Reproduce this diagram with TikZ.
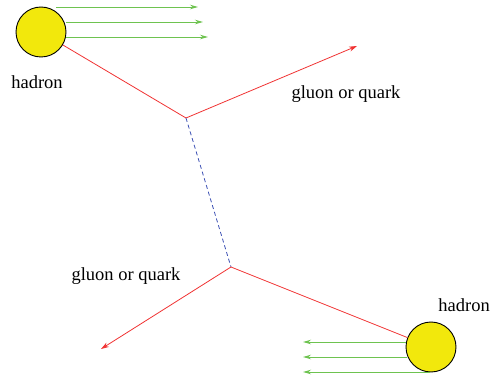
\documentclass[tikz,border=0pt]{standalone}
\usepackage{fontspec}
\setmainfont{Liberation Serif}
\usetikzlibrary{arrows.meta}
\definecolor{hred}{RGB}{240,50,50}
\definecolor{hgreen}{RGB}{110,195,80}
\definecolor{hblue}{RGB}{60,80,180}
\definecolor{hyellow}{RGB}{242,232,12}
\begin{document}
\begin{tikzpicture}[x=1pt,y=-1pt,
  hadronball/.style={circle,draw=black,fill=hyellow,line width=0.9pt,minimum size=50pt,inner sep=0pt},
  redline/.style={draw=hred,line width=0.8pt},
  redarrow/.style={redline,-{Stealth[length=8pt,width=5pt]}},
  greenarrow/.style={draw=hgreen,line width=0.9pt,-{Stealth[length=8pt,width=4.5pt]}},
  exchange/.style={draw=hblue,line width=0.8pt,dash pattern=on 4pt off 3pt},
  lbl/.style={font=\fontsize{18.5}{22}\selectfont,inner sep=0pt}]
\useasboundingbox (0,0) rectangle (491,377);
% top hadron
\node[hadronball] (h1) at (41,32) {};
\coordinate (g1s) at (56,7);  \coordinate (g1e) at (198,7);
\coordinate (g2s) at (66,22); \coordinate (g2e) at (203,22);
\coordinate (g3s) at (66,37); \coordinate (g3e) at (208,37);
\draw[greenarrow] (g1s) -- (g1e);
\draw[greenarrow] (g2s) -- (g2e);
\draw[greenarrow] (g3s) -- (g3e);
% vertices
\coordinate (v1) at (186,118);
\coordinate (v2) at (231,267);
\coordinate (o1) at (357,46);
\coordinate (o2) at (101,349);
% bottom hadron
\node[hadronball] (h2) at (431,347) {};
\coordinate (b1s) at (406,342); \coordinate (b1e) at (303,342);
\coordinate (b2s) at (407,357); \coordinate (b2e) at (303,357);
\coordinate (b3s) at (430,372); \coordinate (b3e) at (303,372);
\draw[greenarrow] (b1s) -- (b1e);
\draw[greenarrow] (b2s) -- (b2e);
\draw[greenarrow] (b3s) -- (b3e);
% lines
\draw[redline] (h1) -- (v1);
\draw[redarrow] (v1) -- (o1);
\draw[exchange] (v1) -- (v2);
\draw[redline] (h2) -- (v2);
\draw[redarrow] (v2) -- (o2);
% labels
\node[lbl] (t1) at (37,82) {hadron};
\node[lbl] (t2) at (346,94) {gluon or quark};
\node[lbl] (t3) at (126,276) {gluon or quark};
\node[lbl,anchor=east] (t4) at (490,305) {hadron};
\end{tikzpicture}
\end{document}
